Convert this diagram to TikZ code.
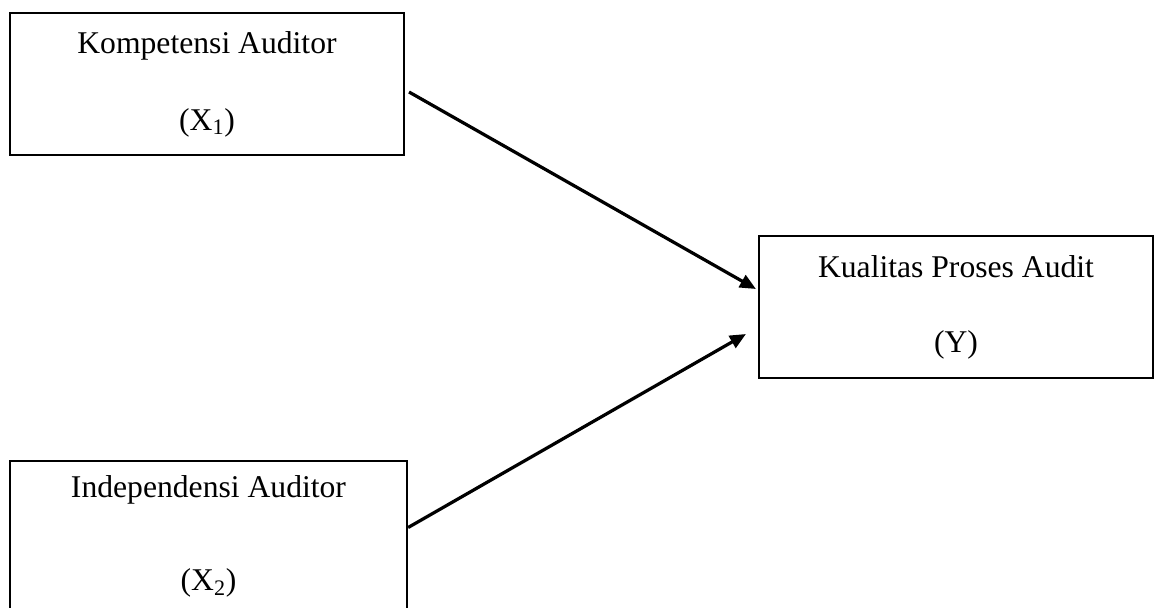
\documentclass[tikz,border=0pt]{standalone}
\usepackage{fontspec}
\setmainfont{Liberation Serif}
\usetikzlibrary{arrows.meta,positioning,calc}

\begin{document}
\begin{tikzpicture}[x=0.025cm, y=-0.025cm,
    font=\fontsize{22.5}{27}\selectfont,
    a/.style={rectangle, draw, line width=1.4pt, align=center,
      minimum width=9.85cm, minimum height=3.55cm, inner sep=0pt},
    fl/.style={-{Triangle[length=0.4cm, width=0.34cm]}, line width=2.3pt}]
    \useasboundingbox (0,0) rectangle (1155,607);
    \node[a] (komp) at (207,84)
      {Kompetensi Auditor\\[0.97cm] (X\textsubscript{1})};
    \node[a, minimum width=9.93cm, minimum height=3.78cm] (indep) at (208.5,536.5)
      {Independensi Auditor\\[1.37cm] (X\textsubscript{2})};
    \node[a] (kual) at (956,307)
      {Kualitas Proses Audit\\[0.93cm] (Y)};
    \draw[fl] ([shift={(4,8)}]komp.east) -- ([shift={(-2,-18)}]kual.west);
    \draw[fl] ([shift={(0,-9)}]indep.east) -- ([shift={(-12,27)}]kual.west);
  \end{tikzpicture}
\end{document}
